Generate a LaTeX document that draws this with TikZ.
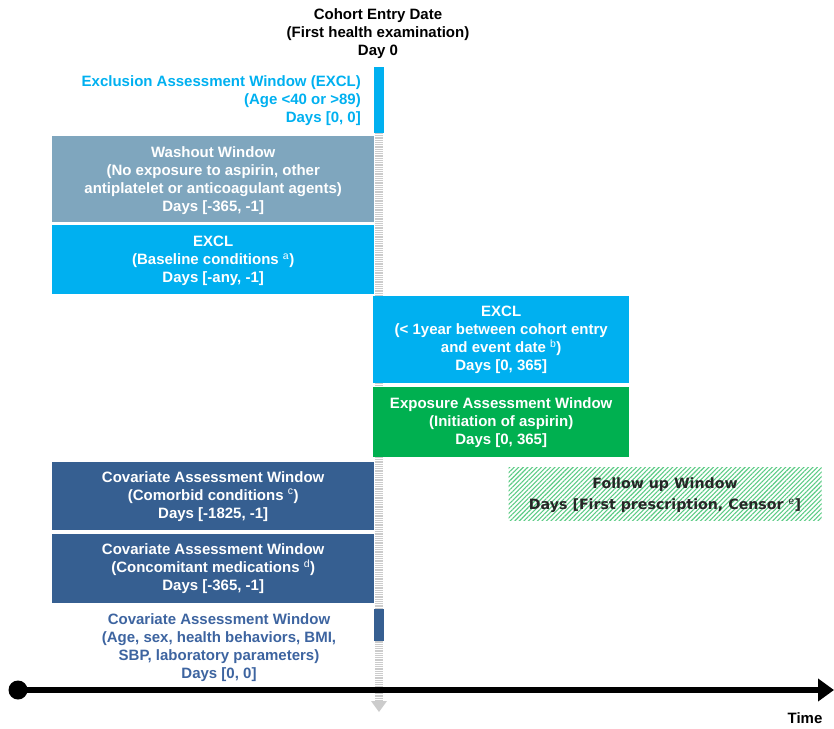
\documentclass[tikz,border=0pt]{standalone}
\usepackage{fontspec}
\setmainfont{Liberation Sans}
\newfontfamily\fufont{DejaVu Sans}
\usetikzlibrary{patterns,patterns.meta,arrows.meta}
\definecolor{cyanx}{HTML}{00B0F0}
\definecolor{washx}{HTML}{7FA6BE}
\definecolor{greenx}{HTML}{00B050}
\definecolor{navyx}{HTML}{365F91}
\definecolor{covtx}{HTML}{3D64A0}
\definecolor{hatchx}{HTML}{5CCB85}
\begin{document}
\begin{tikzpicture}[x=1pt,y=-1pt,
  txt/.style={font=\fontsize{15}{18}\selectfont\bfseries, align=center, inner sep=0pt},
  win/.style={txt, text=white, anchor=north west, inner sep=0pt},
  axisline/.style={line width=6pt, black},
]
\useasboundingbox (0,0) rectangle (834,728);
% dotted day-0 line
\coordinate (vtop) at (379,133);
\coordinate (vbot) at (379,702);
\draw[line width=8pt, gray!40, dash pattern=on 1pt off 0.8pt] (vtop) -- (vbot);
\fill[gray!40] (371,701) -- (387,701) -- (379,712) -- cycle;
% title
\node[txt, text=black] (title) at (378,34) {Cohort Entry Date\\(First health examination)\\Day 0};
% EXCL day 0
\node[fill=cyanx, minimum width=10pt, minimum height=66pt, anchor=north west, inner sep=0pt] (exbar) at (374,67) {};
\node[txt, text=cyanx, align=right, anchor=east] (extext) at (361,101) {Exclusion Assessment Window (EXCL)\\(Age <40 or >89)\\Days [0, 0]};
% left windows
\node[win, fill=washx, minimum width=322pt, minimum height=86pt] (wash) at (52,136) {};
\node[txt, text=white] at ([yshift=-1pt]wash.center) {Washout Window\\(No exposure to aspirin, other\\antiplatelet or anticoagulant agents)\\Days [-365, -1]};
\node[win, fill=cyanx, minimum width=322pt, minimum height=69pt] (exbase) at (52,225) {};
\node[txt, text=white] at ([yshift=-1pt]exbase.center) {EXCL\\(Baseline conditions \textsuperscript{\normalfont a})\\Days [-any, -1]};
% right windows
\node[win, fill=cyanx, minimum width=256pt, minimum height=87pt] (exyear) at (373,296) {};
\node[txt, text=white] at (exyear.center) {EXCL\\(< 1year between cohort entry\\and event date \textsuperscript{\normalfont b})\\Days [0, 365]};
\node[win, fill=greenx, minimum width=256pt, minimum height=70pt] (expo) at (373,387) {};
\node[txt, text=white] at (expo.center) {Exposure Assessment Window\\(Initiation of aspirin)\\Days [0, 365]};
% follow up
\node[anchor=north west, minimum width=313pt, minimum height=53pt, inner sep=0pt,
  pattern={Lines[angle=45,distance=3.2pt,line width=1.1pt]}, pattern color=hatchx] (fu) at (508,467) {};
\node[align=center, inner sep=0pt, text=black!85, font=\fufont\bfseries\fontsize{14.2}{21}\selectfont] at ([yshift=-1pt]fu.center) {Follow up Window\\Days [First prescription, Censor \textsuperscript{\normalfont e}]};
% covariates
\node[win, fill=navyx, minimum width=322pt, minimum height=68pt] (covc) at (52,462) {};
\node[txt, text=white] at (covc.center) {Covariate Assessment Window\\(Comorbid conditions \textsuperscript{\normalfont c})\\Days [-1825, -1]};
\node[win, fill=navyx, minimum width=322pt, minimum height=69pt] (covm) at (52,534) {};
\node[txt, text=white] at (covm.center) {Covariate Assessment Window\\(Concomitant medications \textsuperscript{\normalfont d})\\Days [-365, -1]};
\node[fill=navyx, minimum width=10pt, minimum height=32pt, anchor=north west, inner sep=0pt] (covbar) at (374,609) {};
\node[txt, text=covtx] (covtext) at (219,648) {Covariate Assessment Window\\(Age, sex, health behaviors, BMI,\\SBP, laboratory parameters)\\Days [0, 0]};
% time axis
\node[circle, fill=black, minimum size=19pt, inner sep=0pt] (start) at (18,690) {};
\coordinate (tip) at (834,690);
\draw[axisline, -{Triangle[length=16pt,width=22pt]}] (start.center) -- (tip);
\node[txt, text=black, anchor=center] (time) at (805,718) {Time};
\end{tikzpicture}
\end{document}
